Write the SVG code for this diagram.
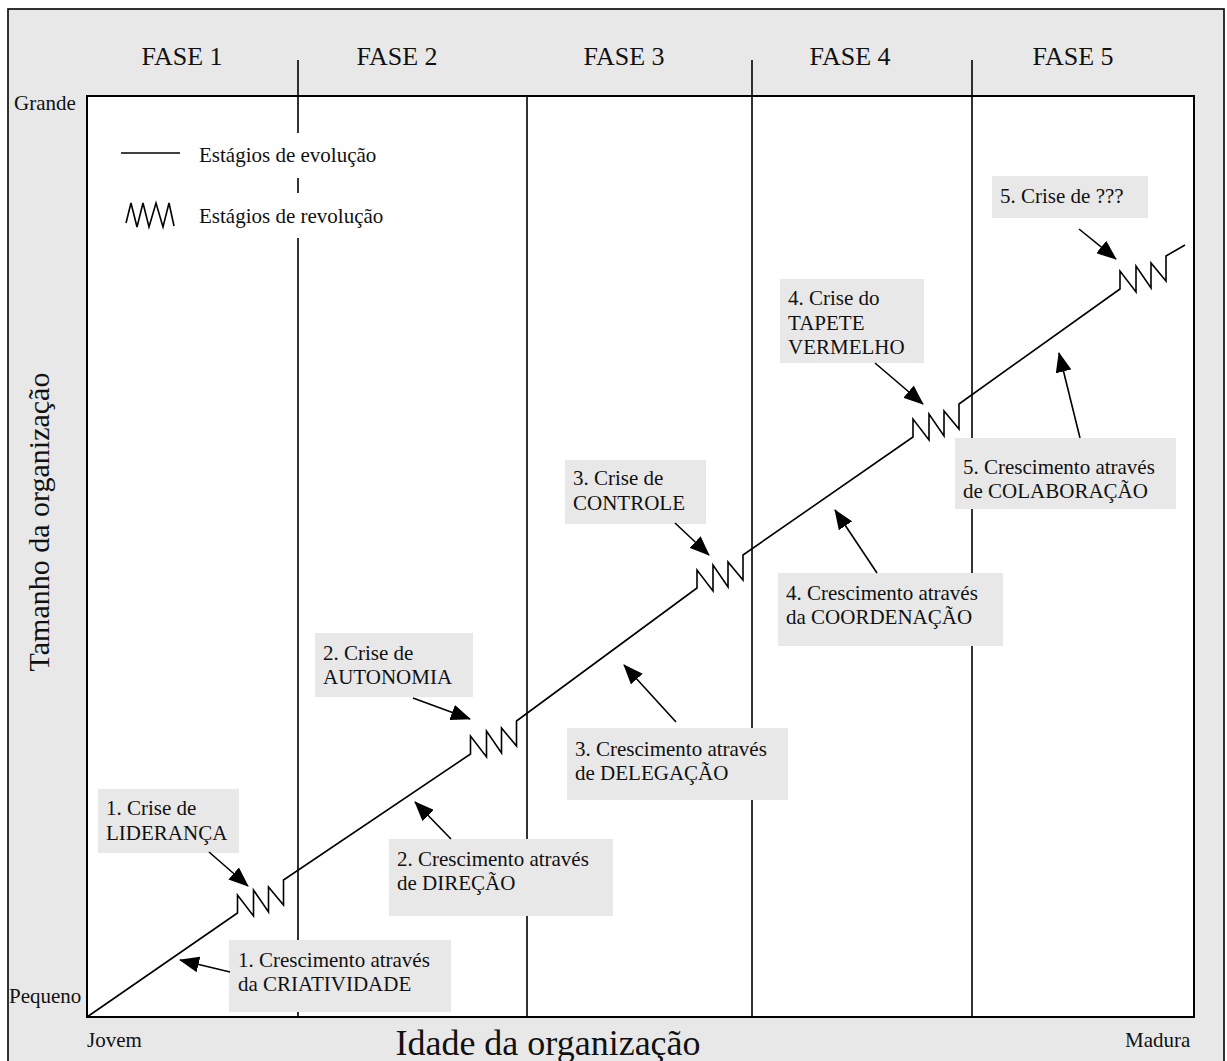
<svg xmlns="http://www.w3.org/2000/svg" width="1227" height="1061" viewBox="0 0 1227 1061" font-family="'Liberation Serif', 'DejaVu Serif', serif">
<style>
text{font-family:'Liberation Serif','DejaVu Serif',serif;fill:#111;}
.t{font-size:21px;}
.fase{font-size:26px;text-anchor:middle;}
.ax{font-size:30px;text-anchor:middle;}
.box{fill:#e8e8e8;stroke:none;}
.div{stroke:#000;stroke-width:1.6;fill:none;}
.main{stroke:#000;stroke-width:1.6;fill:none;stroke-linejoin:miter;}
.arr{stroke:#000;stroke-width:1.6;fill:none;marker-end:url(#ah);}
</style>
<defs>
<marker id="ah" viewBox="0 0 20 16" refX="19" refY="8" markerWidth="20" markerHeight="16" markerUnits="userSpaceOnUse" orient="auto">
<path d="M0,0 L20,8 L0,16 z" fill="#000"/>
</marker>
</defs>
<g id="frame">
<rect x="8" y="9" width="1216" height="1070" fill="#e8e8e8" stroke="#000" stroke-width="1.6"/>
<rect x="87" y="96" width="1107" height="921" fill="#fff" stroke="#000" stroke-width="2"/>
</g>
<g id="dividers">
<path class="div" d="M298,60 V133 M298,178 V193 M298,238 V1017 M527,96 V1017 M752,60 V1017 M972,60 V1017"/>
</g>
<g id="labels">
<text class="fase" x="182" y="65">FASE 1</text>
<text class="fase" x="397" y="65">FASE 2</text>
<text class="fase" x="624" y="65">FASE 3</text>
<text class="fase" x="850" y="65">FASE 4</text>
<text class="fase" x="1073" y="65">FASE 5</text>
<text class="t" x="14" y="110">Grande</text>
<text class="t" x="9" y="1003">Pequeno</text>
<text class="t" x="87" y="1047">Jovem</text>
<text class="t" x="1125" y="1047">Madura</text>
<text class="ax" x="548" y="1055" style="font-size:36px">Idade da organização</text>
<text class="ax" transform="translate(49,522) rotate(-90)" x="0" y="0">Tamanho da organização</text>
</g>
<g id="legend">
<line x1="121" y1="153" x2="180" y2="153" stroke="#000" stroke-width="1.6"/>
<text class="t" x="199" y="162">Estágios de evolução</text>
<path d="M126,223 L131,203 L137,227 L143,203 L149,227 L156,203 L163,227 L169,203 L174,226" fill="none" stroke="#000" stroke-width="1.6"/>
<text class="t" x="199" y="223">Estágios de revolução</text>
</g>
<g id="boxes">
<g id="crise1"><rect class="box" x="98" y="789" width="141" height="64"/><text class="t" x="106" y="815">1. Crise de</text><text class="t" x="106" y="840">LIDERANÇA</text></g>
<g id="cresc1"><rect class="box" x="229" y="940" width="222" height="72"/><text class="t" x="238" y="967">1. Crescimento através</text><text class="t" x="238" y="991">da CRIATIVIDADE</text></g>
<g id="cresc2"><rect class="box" x="389" y="839" width="224" height="77"/><text class="t" x="397" y="866">2. Crescimento através</text><text class="t" x="397" y="890">de DIREÇÃO</text></g>
<g id="crise2"><rect class="box" x="315" y="633" width="158" height="64"/><text class="t" x="323" y="660">2. Crise de</text><text class="t" x="323" y="684">AUTONOMIA</text></g>
<g id="cresc3"><rect class="box" x="567" y="728" width="221" height="72"/><text class="t" x="575" y="756">3. Crescimento através</text><text class="t" x="575" y="780">de DELEGAÇÃO</text></g>
<g id="crise3"><rect class="box" x="565" y="460" width="141" height="64"/><text class="t" x="573" y="485">3. Crise de</text><text class="t" x="573" y="510">CONTROLE</text></g>
<g id="cresc4"><rect class="box" x="778" y="573" width="225" height="73"/><text class="t" x="786" y="600">4. Crescimento através</text><text class="t" x="786" y="624">da COORDENAÇÃO</text></g>
<g id="crise4"><rect class="box" x="780" y="279" width="144" height="84"/><text class="t" x="788" y="305">4. Crise do</text><text class="t" x="788" y="330">TAPETE</text><text class="t" x="788" y="354">VERMELHO</text></g>
<g id="cresc5"><rect class="box" x="955" y="438" width="221" height="71"/><text class="t" x="963" y="474">5. Crescimento através</text><text class="t" x="963" y="498">de COLABORAÇÃO</text></g>
<g id="crise5"><rect class="box" x="992" y="176" width="156" height="42"/><text class="t" x="1000" y="203">5. Crise de ???</text></g>
</g>
<g id="connectors">
<path class="main" d="M87,1017 L237.5,913 v-18 l16,21 v-26 l15,22 v-25 l15,18 v-25 L470.5,754 v-18 l16,21 v-26 l15,22 v-25 l15,18 v-25 L697,588 v-18 l16,21 v-26 l15,22 v-25 l15,18 v-25 L913,437 v-18 l16,21 v-26 l15,22 v-25 l15,18 v-25 L1120,289 v-18 l16,21 v-26 l15,22 v-25 l15,18 v-25 L1185,245"/>
<line class="arr" x1="209" y1="852" x2="248" y2="886"/>
<line class="arr" x1="230" y1="972" x2="180" y2="960"/>
<line class="arr" x1="451" y1="839" x2="415" y2="802"/>
<line class="arr" x1="413" y1="698" x2="470" y2="719"/>
<line class="arr" x1="676" y1="722" x2="624" y2="665"/>
<line class="arr" x1="675" y1="523" x2="709" y2="555"/>
<line class="arr" x1="877" y1="573" x2="835" y2="510"/>
<line class="arr" x1="875" y1="363" x2="923" y2="404"/>
<line class="arr" x1="1080" y1="438" x2="1059" y2="353"/>
<line class="arr" x1="1079" y1="229" x2="1116" y2="259"/>
</g>
</svg>
